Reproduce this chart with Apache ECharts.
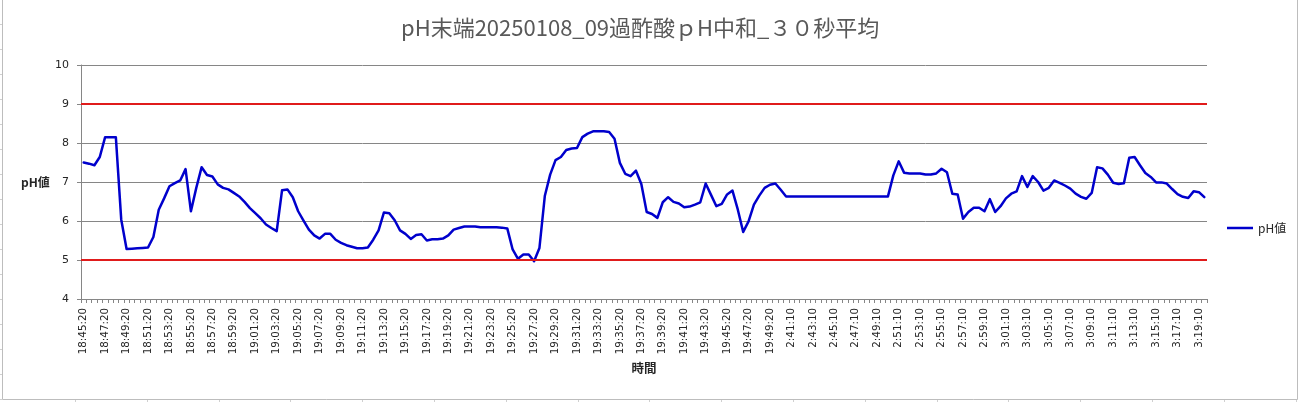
<!DOCTYPE html>
<html>
<head>
<meta charset="utf-8">
<script src="https://cdn.jsdelivr.net/npm/echarts@6/dist/echarts.min.js"></script>
<style>
  html, body { margin: 0; padding: 0; background: #ffffff; }
  #chart { width: 1300px; height: 402px; }
</style>
</head>
<body>
<div id="chart"></div>
<script>
// ---- categories (30 s steps) ----
const timesEvening = [
  '18:45:20','18:45:50','18:46:20','18:46:50','18:47:20','18:47:50','18:48:20','18:48:50','18:49:20','18:49:50',
  '18:50:20','18:50:50','18:51:20','18:51:50','18:52:20','18:52:50','18:53:20','18:53:50','18:54:20','18:54:50',
  '18:55:20','18:55:50','18:56:20','18:56:50','18:57:20','18:57:50','18:58:20','18:58:50','18:59:20','18:59:50',
  '19:00:20','19:00:50','19:01:20','19:01:50','19:02:20','19:02:50','19:03:20','19:03:50','19:04:20','19:04:50',
  '19:05:20','19:05:50','19:06:20','19:06:50','19:07:20','19:07:50','19:08:20','19:08:50','19:09:20','19:09:50',
  '19:10:20','19:10:50','19:11:20','19:11:50','19:12:20','19:12:50','19:13:20','19:13:50','19:14:20','19:14:50',
  '19:15:20','19:15:50','19:16:20','19:16:50','19:17:20','19:17:50','19:18:20','19:18:50','19:19:20','19:19:50',
  '19:20:20','19:20:50','19:21:20','19:21:50','19:22:20','19:22:50','19:23:20','19:23:50','19:24:20','19:24:50',
  '19:25:20','19:25:50','19:26:20','19:26:50','19:27:20','19:27:50','19:28:20','19:28:50','19:29:20','19:29:50',
  '19:30:20','19:30:50','19:31:20','19:31:50','19:32:20','19:32:50','19:33:20','19:33:50','19:34:20','19:34:50',
  '19:35:20','19:35:50','19:36:20','19:36:50','19:37:20','19:37:50','19:38:20','19:38:50','19:39:20','19:39:50',
  '19:40:20','19:40:50','19:41:20','19:41:50','19:42:20','19:42:50','19:43:20','19:43:50','19:44:20','19:44:50',
  '19:45:20','19:45:50','19:46:20','19:46:50','19:47:20','19:47:50','19:48:20','19:48:50','19:49:20','19:49:50',
  '19:50:20'
];
const timesNight = [
  '2:40:40','2:41:10','2:41:40','2:42:10','2:42:40','2:43:10','2:43:40','2:44:10','2:44:40','2:45:10',
  '2:45:40','2:46:10','2:46:40','2:47:10','2:47:40','2:48:10','2:48:40','2:49:10','2:49:40','2:50:10',
  '2:50:40','2:51:10','2:51:40','2:52:10','2:52:40','2:53:10','2:53:40','2:54:10','2:54:40','2:55:10',
  '2:55:40','2:56:10','2:56:40','2:57:10','2:57:40','2:58:10','2:58:40','2:59:10','2:59:40','3:00:10',
  '3:00:40','3:01:10','3:01:40','3:02:10','3:02:40','3:03:10','3:03:40','3:04:10','3:04:40','3:05:10',
  '3:05:40','3:06:10','3:06:40','3:07:10','3:07:40','3:08:10','3:08:40','3:09:10','3:09:40','3:10:10',
  '3:10:40','3:11:10','3:11:40','3:12:10','3:12:40','3:13:10','3:13:40','3:14:10','3:14:40','3:15:10',
  '3:15:40','3:16:10','3:16:40','3:17:10','3:17:40','3:18:10','3:18:40','3:19:10','3:19:40'
];

// ---- pH values (30 s averages) ----
const phEvening = [
  7.50,7.47,7.43,7.64,8.15,8.15,8.15,6.04,5.28,5.29,
  5.30,5.31,5.32,5.59,6.29,6.58,6.89,6.97,7.04,7.33,
  6.25,6.85,7.38,7.18,7.14,6.94,6.85,6.81,6.72,6.63,
  6.49,6.33,6.20,6.07,5.91,5.82,5.74,6.79,6.81,6.61,
  6.25,6.01,5.78,5.63,5.55,5.67,5.67,5.52,5.44,5.38,
  5.34,5.30,5.30,5.32,5.52,5.76,6.22,6.20,6.02,5.76,
  5.67,5.54,5.64,5.66,5.50,5.53,5.53,5.55,5.63,5.78,
  5.82,5.86,5.86,5.86,5.84,5.84,5.84,5.84,5.83,5.81,
  5.27,5.03,5.14,5.14,4.97,5.31,6.64,7.19,7.56,7.64,
  7.82,7.86,7.87,8.15,8.24,8.30,8.30,8.30,8.28,8.11,
  7.49,7.21,7.15,7.29,6.95,6.23,6.18,6.08,6.48,6.61,
  6.49,6.45,6.35,6.37,6.42,6.48,6.96,6.67,6.38,6.44,
  6.68,6.78,6.29,5.72,5.99,6.42,6.65,6.85,6.93,6.96,
  6.80
];
const phNight = [
  6.63,6.63,6.63,6.63,6.63,6.63,6.63,6.63,6.63,6.63,
  6.63,6.63,6.63,6.63,6.63,6.63,6.63,6.63,6.63,6.63,
  7.17,7.53,7.24,7.22,7.22,7.22,7.19,7.19,7.22,7.34,
  7.25,6.70,6.68,6.06,6.23,6.34,6.34,6.25,6.56,6.23,
  6.38,6.58,6.70,6.76,7.15,6.87,7.15,7.00,6.78,6.85,
  7.04,6.98,6.91,6.83,6.70,6.62,6.57,6.72,7.38,7.35,
  7.19,6.98,6.95,6.97,7.62,7.64,7.43,7.23,7.13,6.99,
  6.99,6.96,6.82,6.69,6.62,6.59,6.76,6.74,6.61
];

// ---- control limits (red lines) ----
const limitValues = [9, 5];

// ---- y-axis ticks ----
const yTicks = [4, 5, 6, 7, 8, 9, 10];

const categories = timesEvening.concat(timesNight);
const phValues = phEvening.concat(phNight);

const chart = echarts.init(document.getElementById('chart'), null, { renderer: 'canvas' });

const gridColor = '#868686';
const labelFont = 'DejaVu Sans';
const cjkFont = '"Noto Sans CJK JP", "Noto Sans", sans-serif';

// faint spreadsheet cell lines peeking outside the chart frame
const cellStubs = [];
for (let k = 0; k < 18; k++) {
  const x = Math.round(75 + 71.8 * k) + 0.5;
  cellStubs.push({ type: 'line', silent: true, z: 0,
    shape: { x1: x, y1: 400, x2: x, y2: 402 }, style: { stroke: '#d0d0d0', lineWidth: 1 } });
}
for (let k = 0; k < 16; k++) {
  const y = Math.round(24 + 25 * k) + 0.5;
  cellStubs.push({ type: 'line', silent: true, z: 0,
    shape: { x1: 0, y1: y, x2: 2, y2: y }, style: { stroke: '#d0d0d0', lineWidth: 1 } });
}

chart.setOption({
  animation: false,
  backgroundColor: '#ffffff',
  title: {
    text: 'pH末端20250108_09過酢酸ｐH中和_３０秒平均',
    left: 396,
    top: 12,
    textStyle: { fontFamily: cjkFont, fontSize: 22, fontWeight: 'normal', color: '#595959' }
  },
  legend: {
    data: [{ name: 'pH値', icon: 'rect' }],
    orient: 'vertical',
    left: 1222,
    top: 217,
    itemWidth: 26,
    itemHeight: 2.5,
    itemGap: 4,
    textStyle: { fontFamily: cjkFont, fontSize: 12, color: '#262626' }
  },
  grid: { left: 81, right: 93, top: 65, bottom: 103, containLabel: false },
  xAxis: {
    type: 'category',
    data: categories,
    boundaryGap: true,
    name: '時間',
    nameLocation: 'middle',
    nameGap: 63,
    nameTextStyle: { fontFamily: cjkFont, fontSize: 12.5, fontWeight: 'bold', color: '#262626' },
    axisLine: { show: true, lineStyle: { color: gridColor, width: 1 } },
    axisTick: { show: true, interval: 0, alignWithLabel: false, length: 4, inside: false,
      lineStyle: { color: gridColor, width: 1 } },
    axisLabel: { interval: 3, rotate: 90, margin: 9, fontFamily: labelFont, fontSize: 10.3, color: '#262626' },
    splitLine: { show: false }
  },
  yAxis: {
    type: 'value',
    min: yTicks[0],
    max: yTicks[yTicks.length - 1],
    interval: 1,
    axisLine: { show: true, lineStyle: { color: gridColor, width: 1 } },
    axisTick: { show: true, length: 4, inside: false, lineStyle: { color: gridColor } },
    axisLabel: { margin: 12, fontFamily: labelFont, fontSize: 11, color: '#262626' },
    splitLine: { show: true, lineStyle: { color: gridColor, width: 1 } }
  },
  graphic: [
    { type: 'rect', silent: true, z: 0,
      shape: { x: 2.5, y: -5, width: 1295, height: 404.5 },
      style: { fill: 'none', stroke: '#bdbdbd', lineWidth: 1 } },
    { type: 'text', silent: true, left: 21, top: 176,
      style: { text: 'pH値', font: 'bold 12px "Noto Sans CJK JP"', fill: '#262626' } }
  ].concat(cellStubs),
  series: [
    {
      name: 'pH値',
      type: 'line',
      data: phValues,
      symbol: 'none',
      showSymbol: false,
      smooth: false,
      z: 3,
      itemStyle: { color: '#0000cc' },
      lineStyle: { color: '#0000cc', width: 2.5, cap: 'round', join: 'round' },
      markLine: {
        silent: true,
        symbol: 'none',
        label: { show: false },
        lineStyle: { color: '#e01b1b', width: 2, type: 'solid' },
        data: limitValues.map(v => ({ yAxis: v }))
      }
    }
  ]
});
</script>
</body>
</html>
